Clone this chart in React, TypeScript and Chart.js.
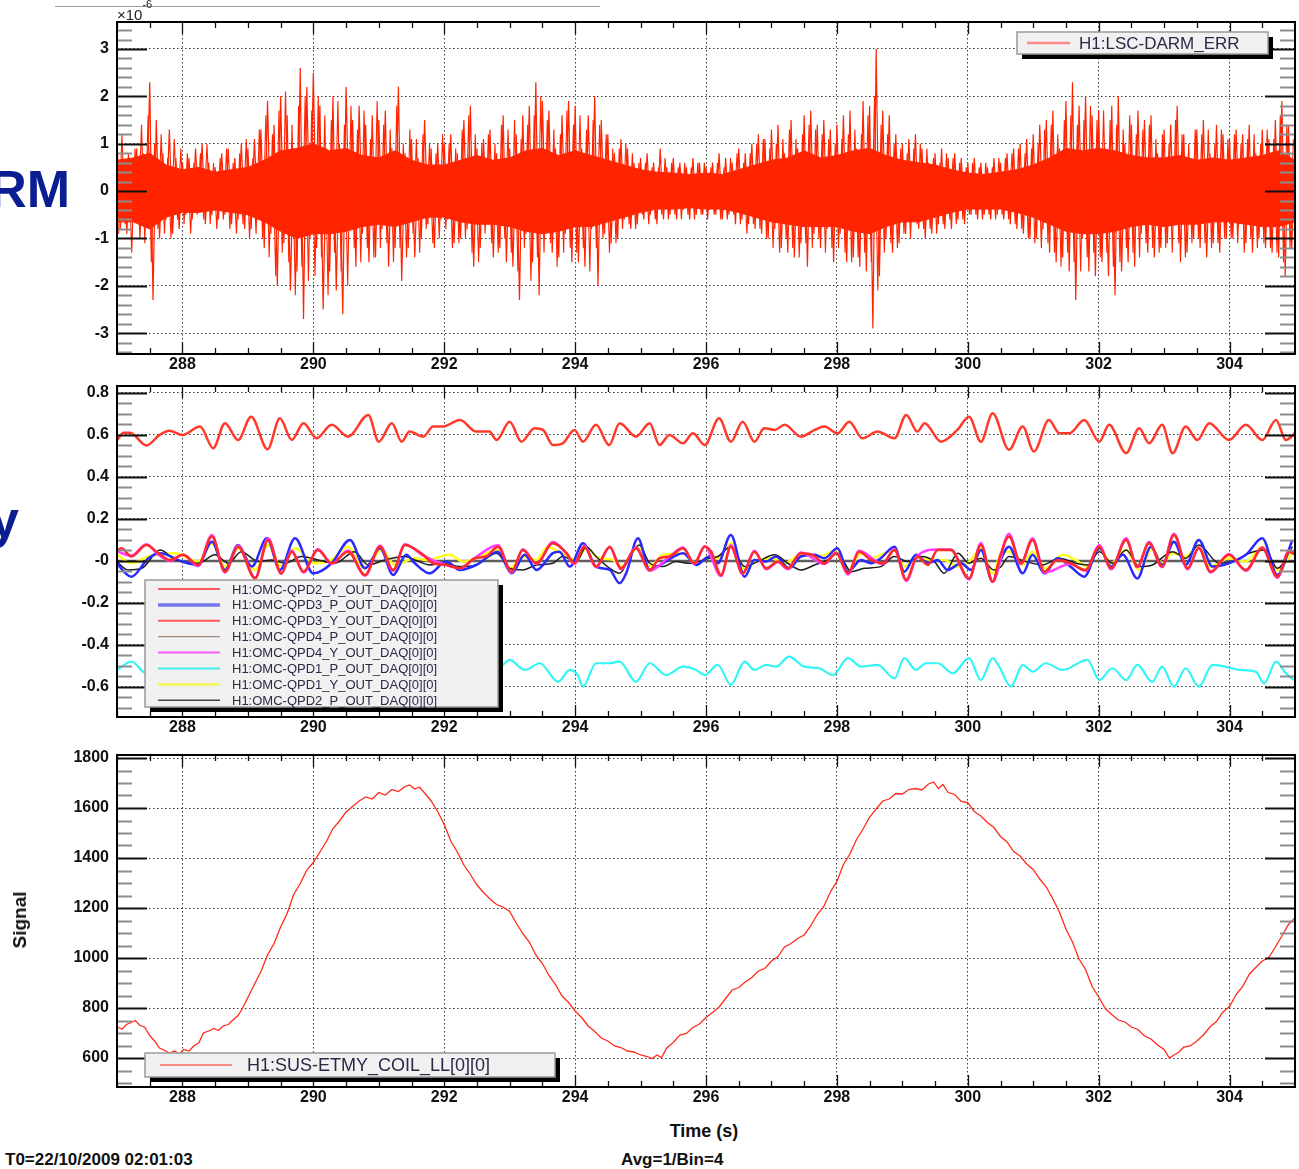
import React, { useEffect, useRef } from "react";
import { Chart, registerables } from "chart.js";
Chart.register(...registerables);

type Pt = [number, number];

// ---------- shared axis data ----------
const X_MIN = 287;
const X_MAX = 305;
const X_TICKS = [288, 290, 292, 294, 296, 298, 300, 302, 304];
const X_MINOR_STEP = 0.5;

// ---------- panel 1 : H1:LSC-DARM_ERR (x10^-6) ----------
const DARM_Y_TICKS = [-3, -2, -1, 0, 1, 2, 3];
const DARM_Y_LABELS = ["-3", "-2", "-1", "0", "1", "2", "3"];
const DARM_T0 = 287;
const DARM_DT = 0.05;
// samples at 287.000, 287.050, ...
const DARM_ERR = [
  1.1, -0.8, 0.6, -0.9, 0.7, -0.5, 0.9, -1.0, 0.8, -0.7, 2.3, -2.3, 1.5, -1.0, 0.8, -0.6, 1.3, -0.9, 0.7, -0.8,
  0.6, -0.5, 0.7, -0.6, 0.9, -0.4, 1.0, -0.7, 0.6, -0.5, 0.5, -0.6, 0.8, -0.5, 0.9, -0.7, 0.7, -0.6, 1.0, -0.8,
  0.9, -0.8, 1.1, -0.6, 1.3, -1.2, 1.9, -0.9, 1.4, -2.0, 2.0, -1.1, 1.6, -2.1, 0.9, -1.7, 2.6, -2.7, 2.2, -1.0,
  2.5, -1.2, 1.8, -2.5, 0.9, -1.7, 2.0, -2.1, 1.0, -2.6, 2.2, -0.8, 1.5, -1.6, 1.8, -0.9, 1.4, -1.5, 1.6, -1.4,
  1.5, -0.8, 1.7, -1.6, 0.9, -1.2, 2.2, -1.9, 0.8, -1.2, 1.1, -1.4, 0.7, -1.0, 1.5, -0.7, 0.9, -1.2, 1.0, -0.6,
  1.0, -0.6, 1.2, -1.1, 0.8, -1.0, 1.5, -0.8, 1.8, -1.6, 0.9, -1.2, 1.1, -0.7, 1.3, -1.4, 0.8, -1.2, 1.6, -1.5,
  0.9, -1.6, 1.2, -2.3, 1.6, -0.9, 1.8, -1.5, 2.3, -2.2, 1.9, -0.8, 1.7, -1.3, 0.9, -1.4, 1.6, -0.9, 1.9, -1.5,
  1.8, -1.5, 0.9, -1.6, 1.6, -0.8, 2.0, -2.0, 1.5, -0.9, 1.2, -1.1, 0.8, -1.0, 1.1, -0.6, 0.9, -0.8, 0.6, -0.7,
  0.7, -0.6, 0.8, -0.5, 0.6, -0.7, 0.9, -0.6, 0.5, -0.5, 0.7, -0.6, 0.6, -0.4, 0.5, -0.6, 0.7, -0.5, 0.6, -0.5,
  0.5, -0.4, 0.6, -0.5, 0.8, -0.6, 0.7, -0.5, 0.6, -0.7, 0.9, -0.6, 0.8, -0.7, 1.0, -0.8, 1.2, -0.9, 1.1, -1.0,
  1.3, -0.8, 1.4, -1.2, 0.8, -1.3, 1.5, -1.4, 0.9, -1.1, 1.6, -1.6, 1.7, -0.9, 1.4, -1.2, 1.5, -0.8, 1.3, -1.5,
  1.4, -0.9, 1.6, -1.5, 1.7, -1.4, 0.9, -1.6, 1.9, -1.7, 1.8, -2.9, 3.0, -1.8, 1.7, -1.0, 1.6, -1.3, 1.2, -1.1,
  1.0, -0.9, 1.1, -0.6, 1.2, -0.8, 0.9, -1.0, 0.6, -0.9, 0.8, -0.7, 0.9, -0.8, 0.7, -0.8, 0.8, -0.6, 0.7, -0.7,
  0.6, -0.5, 0.7, -0.6, 0.6, -0.5, 0.5, -0.6, 0.7, -0.5, 0.6, -0.6, 0.8, -0.7, 0.9, -0.8, 1.0, -0.9, 1.1, -1.0,
  1.2, -1.0, 1.4, -0.8, 1.5, -1.3, 1.7, -1.5, 0.9, -1.4, 1.9, -1.7, 2.3, -2.3, 1.8, -1.0, 2.0, -1.7, 1.6, -1.8,
  1.7, -1.5, 0.9, -1.8, 1.8, -2.2, 2.0, -1.7, 1.0, -1.5, 1.4, -1.6, 1.7, -0.9, 1.5, -1.3, 1.6, -1.4, 0.8, -1.2,
  1.3, -1.1, 1.4, -0.7, 1.8, -1.5, 1.2, -1.3, 0.7, -1.0, 1.3, -1.2, 1.5, -1.4, 0.8, -1.1, 1.4, -1.3, 1.2, -1.0,
  1.1, -1.0, 1.3, -0.7, 1.2, -1.1, 1.4, -1.3, 0.8, -1.0, 1.3, -1.2, 1.1, -1.3, 1.5, -1.4, 1.9, -1.8, 1.4, -1.2,
  1.0,
];
// samples at 287.025, 287.075, ... (in between the ones above)
const DARM_T0_B = 287.025;
const DARM_ERR_B = [
  -0.9, 1.2, -0.7, 0.8, -1.3, 0.9, -0.6, 1.4, -1.1, 1.6, -1.5, 1.0, -0.8, 1.2, -0.9, 0.7, -1.0, 1.1, -0.6, 0.9,
  -0.7, 0.8, -0.9, 0.6, -0.5, 0.8, -0.6, 1.0, -0.7, 0.6, -0.8, 0.7, -0.6, 0.9, -0.8, 0.6, -0.9, 0.8, -0.7, 1.1,
  -1.0, 0.7, -0.9, 1.3, -1.0, 1.6, -1.4, 1.2, -1.8, 1.7, -1.3, 2.1, -1.5, 1.4, -2.2, 1.8, -1.6, 2.0, -1.9, 1.7,
  -1.8, 2.0, -1.4, 1.6, -2.2, 1.5, -1.3, 1.9, -1.7, 1.4, -2.0, 1.8, -1.2, 1.3, -1.5, 1.7, -1.2, 1.1, -1.4, 1.9,
  -1.2, 1.4, -1.1, 1.3, -1.5, 1.8, -1.2, 1.0, -1.4, 1.3, -0.9, 1.1, -1.3, 1.2, -0.8, 1.0, -1.1, 0.8, -1.0, 1.2,
  -0.8, 1.0, -1.2, 0.9, -1.1, 1.3, -1.0, 1.6, -1.3, 1.2, -1.5, 1.0, -0.9, 1.2, -1.1, 1.0, -1.3, 1.4, -1.0, 1.3,
  -1.3, 1.5, -1.7, 1.1, -1.2, 1.4, -1.9, 1.6, -1.4, 2.0, -1.3, 1.5, -1.1, 1.3, -1.6, 1.2, -1.3, 1.7, -1.2, 1.4,
  -1.3, 1.6, -1.2, 1.3, -1.7, 1.5, -1.2, 1.4, -1.0, 1.2, -1.3, 0.9, -1.1, 0.9, -0.8, 1.0, -0.7, 0.8, -0.8, 0.6,
  -0.5, 0.6, -0.7, 0.5, -0.6, 0.5, -0.5, 0.7, -0.6, 0.6, -0.5, 0.5, -0.6, 0.6, -0.5, 0.5, -0.6, 0.6, -0.5, 0.6,
  -0.6, 0.5, -0.5, 0.6, -0.6, 0.5, -0.6, 0.7, -0.5, 0.8, -0.7, 0.6, -0.9, 0.8, -0.7, 1.0, -0.8, 1.1, -1.0, 0.9,
  -1.2, 1.0, -1.3, 1.1, -1.0, 1.3, -1.2, 1.1, -1.4, 1.2, -1.1, 1.4, -1.2, 1.3, -1.0, 1.2, -1.3, 1.1, -1.2, 1.0,
  -1.2, 1.1, -1.3, 1.2, -1.5, 1.3, -1.4, 1.2, -1.3, 1.6, -1.5, 2.0, -2.1, 1.4, -1.3, 1.2, -1.1, 1.0, -1.2, 0.9,
  -0.9, 0.8, -1.0, 0.9, -0.7, 1.0, -0.8, 0.9, -0.8, 0.7, -0.9, 0.6, -0.7, 0.8, -0.6, 0.7, -0.7, 0.6, -0.6, 0.5,
  -0.5, 0.6, -0.5, 0.5, -0.6, 0.6, -0.5, 0.5, -0.6, 0.7, -0.5, 0.7, -0.6, 0.8, -0.7, 0.9, -0.8, 0.8, -1.0, 0.9,
  -1.1, 1.0, -1.2, 1.3, -1.1, 1.4, -1.3, 1.2, -1.6, 1.5, -1.3, 1.6, -1.5, 1.4, -1.7, 1.5, -1.4, 1.8, -1.3, 1.5,
  -1.4, 1.7, -1.3, 1.5, -1.6, 1.4, -1.5, 1.3, -1.2, 1.6, -1.3, 1.2, -1.4, 1.3, -1.1, 1.4, -1.2, 1.1, -1.3, 1.2,
  -1.2, 1.0, -1.3, 1.5, -1.1, 1.2, -1.4, 1.0, -1.1, 1.3, -1.0, 1.2, -1.1, 1.3, -1.2, 1.0, -1.1, 1.3, -1.0, 1.1,
  -1.0, 1.2, -1.1, 1.0, -1.3, 1.1, -1.0, 1.2, -1.2, 1.0, -1.1, 1.3, -1.2, 1.1, -1.3, 1.6, -1.5, 1.4, -1.2, 1.1,
];
// solid core of the noise band (upper / lower edge), every 0.25 s
const DARM_CORE_DT = 0.25;
const DARM_CORE_HI = [
  0.65, 0.7, 0.8, 0.55, 0.45, 0.5, 0.4, 0.45, 0.5, 0.65, 0.85, 0.9, 1.0, 0.85, 0.9, 0.75,
  0.7, 0.85, 0.65, 0.55, 0.55, 0.65, 0.75, 0.65, 0.7, 0.85, 0.9, 0.75, 0.85, 0.75, 0.65, 0.55,
  0.45, 0.4, 0.38, 0.35, 0.38, 0.35, 0.45, 0.55, 0.65, 0.7, 0.85, 0.7, 0.75, 0.85, 0.9, 0.75,
  0.65, 0.6, 0.55, 0.45, 0.38, 0.35, 0.4, 0.45, 0.55, 0.7, 0.9, 0.85, 0.9, 0.85, 0.75, 0.7,
  0.7, 0.75, 0.65, 0.7, 0.65, 0.7, 0.75, 0.85, 0.65,
];
const DARM_CORE_LO = [
  -0.65, -0.65, -0.8, -0.55, -0.45, -0.45, -0.4, -0.45, -0.5, -0.65, -0.85, -1.0, -0.9, -0.9, -0.85, -0.75,
  -0.7, -0.75, -0.65, -0.55, -0.55, -0.65, -0.7, -0.7, -0.75, -0.85, -0.9, -0.85, -0.75, -0.75, -0.65, -0.55,
  -0.45, -0.38, -0.38, -0.35, -0.38, -0.38, -0.45, -0.55, -0.65, -0.7, -0.75, -0.75, -0.75, -0.85, -0.9, -0.75,
  -0.65, -0.65, -0.55, -0.45, -0.38, -0.38, -0.38, -0.45, -0.55, -0.7, -0.85, -0.9, -0.9, -0.85, -0.75, -0.7,
  -0.75, -0.7, -0.7, -0.65, -0.65, -0.7, -0.75, -0.75, -0.65,
];

// ---------- panel 2 : OMC QPD signals ----------
const QPD_Y_TICKS = [-0.6, -0.4, -0.2, 0, 0.2, 0.4, 0.6, 0.8];
const QPD_Y_LABELS = ["-0.6", "-0.4", "-0.2", "-0", "0.2", "0.4", "0.6", "0.8"];

const QPD2_Y: Pt[] = [
  [287.0, 0.575], [287.1, 0.61], [287.2, 0.61], [287.45, 0.55], [287.65, 0.6], [287.8, 0.62], [288.0, 0.6],
  [288.27, 0.64], [288.47, 0.537], [288.65, 0.656], [288.85, 0.576], [289.05, 0.687], [289.3, 0.532],
  [289.49, 0.679], [289.67, 0.576], [289.85, 0.656], [290.05, 0.584], [290.28, 0.648], [290.53, 0.592],
  [290.84, 0.695], [291.0, 0.568], [291.2, 0.656], [291.35, 0.568], [291.47, 0.616], [291.68, 0.592],
  [291.83, 0.64], [291.98, 0.64], [292.24, 0.671], [292.49, 0.616], [292.69, 0.616], [292.8, 0.576],
  [293.0, 0.663], [293.18, 0.568], [293.38, 0.632], [293.51, 0.624], [293.66, 0.552], [293.81, 0.56],
  [293.99, 0.624], [294.12, 0.568], [294.32, 0.648], [294.52, 0.552], [294.68, 0.656], [294.93, 0.592],
  [295.14, 0.656], [295.29, 0.552], [295.44, 0.6], [295.65, 0.56], [295.8, 0.608], [295.98, 0.552],
  [296.2, 0.679], [296.38, 0.568], [296.56, 0.663], [296.74, 0.568], [296.89, 0.632], [297.05, 0.624],
  [297.2, 0.648], [297.45, 0.592], [297.66, 0.624], [297.81, 0.64], [298.01, 0.608], [298.19, 0.663],
  [298.39, 0.584], [298.62, 0.616], [298.88, 0.584], [299.06, 0.695], [299.23, 0.616], [299.34, 0.656],
  [299.59, 0.568], [299.84, 0.624], [300.02, 0.687], [300.2, 0.568], [300.38, 0.703], [300.63, 0.529],
  [300.84, 0.64], [301.01, 0.521], [301.24, 0.671], [301.4, 0.608], [301.55, 0.608], [301.78, 0.671],
  [302.01, 0.568], [302.16, 0.648], [302.42, 0.513], [302.62, 0.632], [302.77, 0.56], [302.97, 0.648],
  [303.13, 0.513], [303.33, 0.64], [303.51, 0.576], [303.69, 0.656], [303.99, 0.576], [304.25, 0.648],
  [304.5, 0.576], [304.71, 0.671], [304.86, 0.576], [305.0, 0.608],
];

const QPD3_P: Pt[] = [
  [286.97, -0.003], [287.22, -0.075], [287.48, 0.013], [287.66, 0.037], [288.0, -0.003], [288.24, -0.019],
  [288.45, 0.092], [288.65, -0.043], [288.85, 0.076], [289.06, -0.027], [289.29, 0.108], [289.49, -0.043],
  [289.72, 0.108], [290.0, -0.059], [290.28, -0.011], [290.56, 0.1], [290.79, -0.035], [291.02, 0.06],
  [291.22, -0.067], [291.42, 0.029], [291.55, -0.011], [291.78, -0.059], [292.03, -0.003], [292.24, -0.043],
  [292.49, -0.019], [292.82, 0.044], [293.03, -0.059], [293.23, 0.029], [293.41, -0.043], [293.66, 0.037],
  [293.76, 0.044], [293.92, -0.027], [294.12, 0.084], [294.32, -0.027], [294.53, -0.043], [294.68, -0.106],
  [294.78, -0.059], [294.96, 0.108], [295.14, -0.043], [295.34, -0.011], [295.65, 0.037], [295.85, -0.019],
  [296.05, 0.021], [296.18, -0.011], [296.38, 0.124], [296.59, -0.075], [296.74, 0.005], [296.92, -0.003],
  [297.07, 0.021], [297.27, -0.035], [297.45, 0.021], [297.66, 0.029], [297.81, 0.013], [298.01, 0.06],
  [298.17, -0.051], [298.37, 0.005], [298.52, -0.011], [298.67, 0.013], [298.88, 0.068], [299.03, -0.051],
  [299.21, 0.029], [299.39, -0.011], [299.54, 0.005], [299.69, -0.043], [299.9, -0.011], [300.05, -0.043],
  [300.2, 0.052], [300.38, -0.098], [300.48, -0.011], [300.63, 0.068], [300.84, -0.059], [300.99, 0.029],
  [301.17, -0.059], [301.37, 0.013], [301.57, -0.027], [301.78, -0.075], [302.01, 0.06], [302.19, -0.027],
  [302.37, 0.029], [302.59, -0.083], [302.8, 0.068], [302.97, -0.019], [303.15, 0.092], [303.33, -0.019],
  [303.53, 0.1], [303.74, -0.027], [303.99, -0.011], [304.25, 0.029], [304.5, 0.108], [304.73, -0.067],
  [304.96, 0.1],
];

const QPD3_Y: Pt[] = [
  [286.97, 0.044], [287.07, 0.06], [287.22, 0.021], [287.45, 0.076], [287.63, 0.037], [287.81, 0.005],
  [288.01, 0.029], [288.24, -0.019], [288.45, 0.116], [288.65, -0.051], [288.85, 0.068], [289.11, -0.083],
  [289.31, 0.1], [289.51, -0.059], [289.67, 0.044], [289.85, -0.051], [290.07, 0.052], [290.28, -0.011],
  [290.53, 0.044], [290.79, -0.067], [291.02, 0.068], [291.22, -0.043], [291.4, 0.076], [291.68, 0.029],
  [291.83, -0.011], [292.03, -0.019], [292.24, -0.035], [292.47, 0.013], [292.64, 0.021], [292.82, 0.068],
  [293.03, -0.051], [293.2, 0.052], [293.41, -0.011], [293.66, 0.084], [293.87, 0.037], [293.99, -0.011],
  [294.14, 0.068], [294.32, -0.027], [294.53, 0.068], [294.7, -0.035], [294.93, 0.06], [295.14, -0.043],
  [295.29, 0.013], [295.44, 0.021], [295.65, 0.06], [295.82, -0.011], [295.98, 0.068], [296.08, 0.044],
  [296.23, -0.067], [296.38, 0.068], [296.56, -0.059], [296.74, 0.044], [296.92, -0.035], [297.1, -0.003],
  [297.25, -0.035], [297.45, 0.037], [297.63, 0.029], [297.81, -0.011], [297.99, 0.037], [298.17, -0.059],
  [298.34, 0.044], [298.52, 0.005], [298.7, -0.011], [298.88, 0.052], [299.06, -0.09], [299.23, 0.021],
  [299.39, -0.019], [299.54, 0.052], [299.74, 0.052], [300.02, -0.083], [300.2, 0.076], [300.38, -0.098],
  [300.5, 0.03], [300.63, 0.116], [300.81, -0.011], [300.99, 0.1], [301.17, -0.051], [301.37, 0.005],
  [301.57, -0.011], [301.8, -0.043], [302.01, 0.068], [302.19, -0.035], [302.42, 0.1], [302.59, -0.027],
  [302.77, 0.084], [302.97, -0.027], [303.15, 0.124], [303.36, -0.035], [303.53, 0.06], [303.71, -0.051],
  [303.99, 0.029], [304.25, -0.043], [304.5, 0.06], [304.73, -0.075], [304.91, 0.044], [305.01, 0.029],
];

const QPD4_P: Pt[] = [[287.0, 0], [305.0, 0]];

const QPD4_Y: Pt[] = [
  [286.97, 0.05], [287.22, 0.025], [287.45, 0.08], [287.63, 0.03], [287.81, 0.0], [288.01, 0.03],
  [288.24, -0.025], [288.45, 0.124], [288.65, -0.055], [288.85, 0.072], [289.11, -0.08], [289.31, 0.108],
  [289.51, -0.062], [289.67, 0.05], [289.85, -0.055], [290.07, 0.056], [290.28, -0.015], [290.53, 0.05],
  [290.79, -0.07], [291.02, 0.072], [291.22, -0.047], [291.4, 0.08], [291.68, 0.025], [292.03, -0.02],
  [292.24, -0.035], [292.47, 0.015], [292.82, 0.075], [293.03, -0.055], [293.2, 0.056], [293.41, -0.015],
  [293.66, 0.09], [293.87, 0.035], [293.99, -0.015], [294.14, 0.072], [294.32, -0.03], [294.53, 0.065],
  [294.7, -0.04], [294.93, 0.064], [295.14, -0.047], [295.44, 0.02], [295.65, 0.064], [295.82, -0.015],
  [295.98, 0.07], [296.23, -0.072], [296.38, 0.075], [296.56, -0.062], [296.74, 0.048], [296.92, -0.04],
  [297.1, -0.005], [297.25, -0.04], [297.45, 0.04], [297.81, -0.015], [297.99, 0.04], [298.17, -0.064],
  [298.34, 0.048], [298.7, -0.015], [298.88, 0.056], [299.06, -0.095], [299.23, 0.025], [299.54, 0.055],
  [299.74, 0.055], [300.02, -0.088], [300.2, 0.085], [300.38, -0.1], [300.63, 0.13], [300.81, -0.015],
  [300.99, 0.108], [301.17, -0.055], [301.57, -0.015], [301.8, -0.047], [302.01, 0.075], [302.19, -0.04],
  [302.42, 0.108], [302.59, -0.03], [302.77, 0.09], [302.97, -0.03], [303.15, 0.13], [303.36, -0.04],
  [303.53, 0.064], [303.71, -0.055], [303.99, 0.033], [304.25, -0.047], [304.5, 0.064], [304.73, -0.08],
  [304.91, 0.05], [305.01, 0.033],
];

const QPD1_P: Pt[] = [
  [287.0, -0.519], [287.22, -0.479], [287.45, -0.535], [287.7, -0.51], [288.0, -0.52], [288.5, -0.5],
  [289.0, -0.53], [289.5, -0.5], [290.0, -0.52], [290.5, -0.5], [291.0, -0.53], [291.5, -0.5], [292.0, -0.52],
  [292.5, -0.5], [292.85, -0.503], [293.0, -0.471], [293.23, -0.519], [293.46, -0.487], [293.74, -0.575],
  [293.92, -0.519], [294.04, -0.543], [294.12, -0.598], [294.32, -0.487], [294.53, -0.487], [294.68, -0.479],
  [294.93, -0.575], [295.14, -0.487], [295.39, -0.543], [295.65, -0.503], [295.85, -0.519], [295.98, -0.543],
  [296.18, -0.495], [296.38, -0.59], [296.59, -0.479], [296.74, -0.519], [296.92, -0.495], [297.07, -0.503],
  [297.27, -0.456], [297.5, -0.503], [297.73, -0.511], [297.94, -0.543], [298.17, -0.463], [298.37, -0.503],
  [298.62, -0.495], [298.88, -0.559], [299.03, -0.463], [299.21, -0.519], [299.36, -0.487], [299.54, -0.487],
  [299.77, -0.535], [300.02, -0.463], [300.2, -0.567], [300.38, -0.463], [300.48, -0.503], [300.66, -0.598],
  [300.84, -0.495], [300.99, -0.527], [301.19, -0.487], [301.45, -0.519], [301.83, -0.471], [302.01, -0.567],
  [302.21, -0.511], [302.42, -0.567], [302.59, -0.495], [302.82, -0.575], [302.97, -0.503], [303.15, -0.598],
  [303.33, -0.511], [303.53, -0.598], [303.74, -0.495], [304.04, -0.511], [304.15, -0.519], [304.4, -0.527],
  [304.53, -0.583], [304.71, -0.479], [304.86, -0.535], [304.98, -0.567],
];

const QPD1_Y: Pt[] = [
  [286.97, 0.037], [287.22, -0.011], [287.48, 0.021], [287.89, 0.037], [288.24, -0.003], [288.45, 0.084],
  [288.65, -0.027], [288.85, 0.06], [289.11, -0.043], [289.31, 0.076], [289.51, -0.027], [289.72, 0.06],
  [290.02, -0.011], [290.28, 0.005], [290.53, 0.068], [290.79, -0.035], [291.04, 0.052], [291.25, -0.019],
  [291.55, 0.013], [291.73, 0.005], [292.08, 0.029], [292.29, -0.003], [292.49, 0.013], [292.8, 0.052],
  [293.0, -0.035], [293.2, 0.021], [293.41, 0.005], [293.58, 0.068], [293.79, 0.037], [294.02, 0.005],
  [294.17, 0.06], [294.37, 0.013], [294.58, 0.005], [294.73, -0.027], [294.96, 0.068], [295.14, -0.027],
  [295.34, 0.029], [295.65, 0.037], [295.85, -0.011], [296.05, 0.021], [296.18, 0.013], [296.38, 0.084],
  [296.59, -0.043], [296.79, 0.005], [297.0, 0.013], [297.2, -0.011], [297.45, 0.029], [297.66, 0.021],
  [297.81, 0.029], [298.01, 0.052], [298.17, -0.043], [298.37, 0.037], [298.52, 0.013], [298.73, 0.037],
  [298.88, 0.052], [299.03, -0.027], [299.23, 0.021], [299.44, 0.005], [299.64, 0.005], [299.85, -0.027],
  [300.05, 0.005], [300.2, 0.06], [300.38, -0.059], [300.5, 0.03], [300.63, 0.044], [300.84, -0.019],
  [300.99, 0.044], [301.19, -0.035], [301.45, 0.029], [301.65, 0.005], [301.83, -0.027], [302.01, 0.068],
  [302.19, -0.011], [302.42, 0.052], [302.62, -0.043], [302.82, 0.06], [302.97, -0.011], [303.13, 0.037],
  [303.33, 0.021], [303.53, 0.068], [303.71, -0.027], [303.99, 0.013], [304.25, -0.003], [304.5, 0.068],
  [304.73, -0.043], [304.96, 0.037],
];

const QPD2_P: Pt[] = [
  [286.97, 0.005], [287.17, -0.043], [287.38, -0.035], [287.66, 0.052], [287.89, 0.005], [288.24, -0.011],
  [288.5, 0.029], [288.7, -0.011], [288.9, 0.044], [289.16, -0.003], [289.36, 0.005], [289.57, -0.011],
  [289.82, 0.021], [290.07, 0.005], [290.33, -0.011], [290.63, 0.044], [290.84, -0.019], [291.09, 0.005],
  [291.4, 0.021], [291.55, 0.005], [291.78, -0.019], [291.98, -0.011], [292.24, -0.027], [292.49, -0.019],
  [292.8, 0.037], [293.0, -0.035], [293.2, -0.043], [293.41, -0.019], [293.66, -0.011], [293.81, 0.021],
  [294.02, -0.003], [294.17, 0.068], [294.32, 0.021], [294.53, -0.035], [294.68, -0.059], [294.85, 0.029],
  [294.98, 0.076], [295.14, -0.011], [295.34, -0.027], [295.54, -0.003], [295.75, -0.011], [296.05, 0.013],
  [296.18, 0.021], [296.38, 0.068], [296.59, -0.027], [296.79, -0.003], [297.05, 0.029], [297.25, -0.011],
  [297.45, -0.043], [297.66, -0.019], [297.86, 0.005], [298.01, 0.037], [298.22, -0.051], [298.42, -0.035],
  [298.67, -0.027], [298.88, 0.021], [299.08, -0.003], [299.29, 0.021], [299.49, -0.003], [299.64, -0.059],
  [299.85, 0.037], [300.02, -0.011], [300.2, 0.013], [300.4, -0.043], [300.5, -0.03], [300.63, 0.021],
  [300.89, -0.003], [301.14, -0.019], [301.4, 0.013], [301.65, -0.011], [301.83, -0.019], [302.01, 0.044],
  [302.21, -0.011], [302.42, 0.052], [302.62, -0.027], [302.82, -0.019], [303.13, 0.044], [303.33, 0.013],
  [303.53, 0.076], [303.84, -0.011], [304.04, -0.003], [304.3, 0.037], [304.55, 0.052], [304.73, -0.035],
  [304.96, 0.068],
];

// ---------- panel 3 : H1:SUS-ETMY_COIL_LL ----------
const COIL_Y_TICKS = [600, 800, 1000, 1200, 1400, 1600, 1800];
const COIL_Y_LABELS = ["600", "800", "1000", "1200", "1400", "1600", "1800"];
const COIL_LL: Pt[] = [
  [287.0, 724], [287.08, 716], [287.15, 735], [287.22, 742], [287.28, 750], [287.35, 730], [287.42, 724],
  [287.5, 690], [287.58, 666], [287.65, 640], [287.73, 630], [287.8, 620], [287.88, 628], [287.95, 616],
  [288.02, 634], [288.1, 628], [288.18, 650], [288.25, 660], [288.32, 700], [288.4, 708], [288.48, 718],
  [288.55, 710], [288.62, 728], [288.7, 734], [288.78, 754], [288.85, 770], [288.92, 800], [289.0, 842],
  [289.1, 895], [289.2, 946], [289.3, 1012], [289.4, 1058], [289.5, 1124], [289.6, 1178], [289.7, 1254],
  [289.8, 1298], [289.9, 1352], [290.0, 1382], [290.1, 1424], [290.2, 1466], [290.3, 1518], [290.4, 1548],
  [290.5, 1584], [290.6, 1606], [290.7, 1628], [290.8, 1644], [290.9, 1636], [291.0, 1662], [291.1, 1652],
  [291.2, 1674], [291.3, 1666], [291.4, 1686], [291.47, 1692], [291.55, 1676], [291.62, 1684], [291.7, 1660],
  [291.8, 1628], [291.9, 1586], [292.0, 1534], [292.1, 1468], [292.2, 1424], [292.3, 1372], [292.4, 1334],
  [292.5, 1292], [292.6, 1262], [292.7, 1236], [292.8, 1214], [292.9, 1204], [293.0, 1186], [293.1, 1140],
  [293.2, 1098], [293.3, 1064], [293.4, 1012], [293.5, 978], [293.6, 930], [293.7, 894], [293.8, 848],
  [293.9, 822], [294.0, 788], [294.1, 762], [294.2, 728], [294.3, 706], [294.4, 680], [294.5, 668],
  [294.6, 648], [294.7, 642], [294.8, 628], [294.9, 624], [295.0, 612], [295.1, 606], [295.18, 598],
  [295.25, 612], [295.32, 602], [295.4, 640], [295.5, 662], [295.6, 692], [295.7, 698], [295.8, 722],
  [295.9, 736], [296.0, 762], [296.1, 782], [296.2, 804], [296.3, 838], [296.4, 872], [296.5, 882],
  [296.6, 904], [296.7, 922], [296.8, 948], [296.9, 958], [297.0, 988], [297.1, 1006], [297.2, 1044],
  [297.3, 1058], [297.4, 1078], [297.5, 1092], [297.6, 1128], [297.7, 1174], [297.8, 1206], [297.9, 1264],
  [298.0, 1306], [298.1, 1374], [298.2, 1416], [298.3, 1474], [298.4, 1516], [298.5, 1564], [298.6, 1596],
  [298.7, 1628], [298.8, 1636], [298.9, 1658], [299.0, 1656], [299.1, 1674], [299.2, 1678], [299.3, 1672],
  [299.4, 1696], [299.48, 1704], [299.55, 1678], [299.62, 1694], [299.7, 1662], [299.8, 1654], [299.9, 1626],
  [300.0, 1622], [300.1, 1586], [300.2, 1568], [300.3, 1542], [300.4, 1522], [300.5, 1486], [300.6, 1464],
  [300.7, 1426], [300.8, 1408], [300.9, 1376], [301.0, 1354], [301.1, 1316], [301.2, 1284], [301.3, 1236],
  [301.4, 1184], [301.5, 1116], [301.6, 1064], [301.7, 996], [301.8, 954], [301.9, 886], [302.0, 844],
  [302.1, 798], [302.2, 774], [302.3, 752], [302.4, 744], [302.5, 724], [302.6, 714], [302.7, 688],
  [302.8, 676], [302.9, 652], [303.0, 634], [303.08, 600], [303.15, 612], [303.22, 622], [303.3, 644],
  [303.4, 648], [303.5, 668], [303.6, 692], [303.7, 724], [303.8, 746], [303.9, 784], [304.0, 806],
  [304.1, 854], [304.2, 886], [304.3, 934], [304.4, 962], [304.5, 988], [304.6, 1002], [304.7, 1044],
  [304.8, 1088], [304.9, 1134], [305.0, 1160],
];

// ---------- helpers ----------
const FONT = '"Liberation Sans", Arial, Helvetica, sans-serif';
const toXY = (a: Pt[]) => a.map(([x, y]) => ({ x, y }));

type LegendEntry = { label: string; color: string; width: number };
type LegendSpec = {
  x: number; y: number; w: number; h: number; shadow: number;
  row0: number; rowStep: number; lx1: number; lx2: number; tx: number; fontSize: number;
  entries: LegendEntry[];
};

function framePlugin(yTicks: number[], yMinorStep: number, yMin: number, yMax: number) {
  return {
    id: "rootFrame",
    afterDatasetsDraw(chart: any) {
      const { ctx, chartArea: a, scales } = chart;
      const xs = scales.x;
      const ys = scales.y;
      ctx.save();
      ctx.beginPath();
      ctx.rect(a.left, a.top, a.right - a.left, a.bottom - a.top);
      ctx.clip();
      const seg = (x1: number, y1: number, x2: number, y2: number, c: string, w: number) => {
        ctx.strokeStyle = c;
        ctx.lineWidth = w;
        ctx.beginPath();
        ctx.moveTo(x1, y1);
        ctx.lineTo(x2, y2);
        ctx.stroke();
      };
      const nX = Math.round((X_MAX - X_MIN) / X_MINOR_STEP);
      for (let i = 0; i <= nX; i++) {
        const v = X_MIN + i * X_MINOR_STEP;
        const major = X_TICKS.some((t) => Math.abs(t - v) < 1e-6);
        const px = Math.round(xs.getPixelForValue(v)) + 0.5;
        const len = major ? 12 : 6;
        seg(px, a.bottom, px, a.bottom - len, "#111", 1.3);
        seg(px, a.top, px, a.top + len, "#111", 1.3);
      }
      const k0 = Math.ceil(yMin / yMinorStep - 1e-9);
      const k1 = Math.floor(yMax / yMinorStep + 1e-9);
      for (let k = k0; k <= k1; k++) {
        const v = k * yMinorStep;
        const major = yTicks.some((t) => Math.abs(t - v) < yMinorStep * 1e-3);
        const py = Math.round(ys.getPixelForValue(v)) + 0.5;
        const len = major ? 30 : 15;
        const col = major ? "#111" : "#8c8c8c";
        seg(a.left, py, a.left + len, py, col, 2);
        seg(a.right, py, a.right - len, py, col, 2);
      }
      ctx.restore();
      ctx.save();
      ctx.strokeStyle = "#000";
      ctx.lineWidth = 2;
      ctx.strokeRect(a.left, a.top, a.right - a.left, a.bottom - a.top);
      ctx.restore();
    },
  };
}

function legendPlugin(spec: LegendSpec) {
  return {
    id: "rootLegend",
    afterDraw(chart: any) {
      const { ctx } = chart;
      const s = spec;
      ctx.save();
      ctx.fillStyle = "#000";
      ctx.fillRect(s.x + s.shadow, s.y + s.shadow, s.w, s.h);
      ctx.fillStyle = "#f1f1f1";
      ctx.fillRect(s.x, s.y, s.w, s.h);
      ctx.strokeStyle = "#9a9a9a";
      ctx.lineWidth = 1.5;
      ctx.strokeRect(s.x, s.y, s.w, s.h);
      s.entries.forEach((e, i) => {
        const yy = s.row0 + i * s.rowStep;
        ctx.strokeStyle = e.color;
        ctx.lineWidth = e.width;
        ctx.beginPath();
        ctx.moveTo(s.lx1, yy);
        ctx.lineTo(s.lx2, yy);
        ctx.stroke();
        ctx.fillStyle = "#2a2a48";
        ctx.font = `${s.fontSize}px ${FONT}`;
        ctx.textBaseline = "middle";
        ctx.textAlign = "left";
        ctx.fillText(e.label, s.tx, yy + 1);
      });
      ctx.restore();
    },
  };
}

function makeConfig(opts: {
  datasets: any[];
  padTop: number;
  xAxisH: number;
  yMin: number;
  yMax: number;
  yTicks: number[];
  yLabels: string[];
  yMinorStep: number;
  legend: LegendSpec;
}) {
  const tickFont = { family: FONT, size: 16, weight: "bold" as const };
  return {
    type: "line" as const,
    data: { datasets: opts.datasets },
    options: {
      responsive: false,
      animation: false as const,
      events: [],
      layout: { padding: { top: opts.padTop, right: 4, left: 0, bottom: 0 } },
      plugins: { legend: { display: false }, tooltip: { enabled: false } },
      elements: { point: { radius: 0 } },
      scales: {
        x: {
          type: "linear" as const,
          min: X_MIN,
          max: X_MAX,
          afterBuildTicks: (s: any) => {
            s.ticks = X_TICKS.map((v) => ({ value: v }));
          },
          afterFit: (s: any) => {
            s.height = opts.xAxisH;
          },
          grid: { color: "#3a3a3a", lineWidth: 1, drawTicks: false },
          border: { display: false, dash: [1.5, 2.5] },
          ticks: {
            padding: 1,
            autoSkip: false,
            maxRotation: 0,
            color: "#111",
            font: tickFont,
            callback: (v: any) => String(v),
          },
        },
        y: {
          type: "linear" as const,
          min: opts.yMin,
          max: opts.yMax,
          afterBuildTicks: (s: any) => {
            s.ticks = opts.yTicks.map((v) => ({ value: v }));
          },
          afterFit: (s: any) => {
            s.width = 117;
          },
          grid: { color: "#3a3a3a", lineWidth: 1, drawTicks: false },
          border: { display: false, dash: [1.5, 2.5] },
          ticks: {
            padding: 8,
            autoSkip: false,
            color: "#111",
            font: tickFont,
            callback: (_v: any, i: number) => opts.yLabels[i],
          },
        },
      },
    },
    plugins: [framePlugin(opts.yTicks, opts.yMinorStep, opts.yMin, opts.yMax), legendPlugin(opts.legend)],
  };
}

const line = (data: any[], color: string, width: number, order: number, smooth = true) => ({
  data,
  borderColor: color,
  borderWidth: width,
  backgroundColor: color,
  fill: false as any,
  pointRadius: 0,
  order,
  cubicInterpolationMode: smooth ? ("monotone" as const) : ("default" as const),
  tension: smooth ? 0.4 : 0,
});

export default function App() {
  const c1 = useRef<HTMLCanvasElement>(null);
  const c2 = useRef<HTMLCanvasElement>(null);
  const c3 = useRef<HTMLCanvasElement>(null);

  useEffect(() => {
    const darm = DARM_ERR.map((y, i) => ({ x: DARM_T0 + i * DARM_DT, y }));
    const darmB = DARM_ERR_B.map((y, i) => ({ x: DARM_T0_B + i * DARM_DT, y }));
    const coreHi = DARM_CORE_HI.map((y, i) => ({ x: DARM_T0 + i * DARM_CORE_DT, y }));
    const coreLo = DARM_CORE_LO.map((y, i) => ({ x: DARM_T0 + i * DARM_CORE_DT, y }));
    const hiSet = { ...line(coreHi, "#ff2400", 1, 2, false), fill: "+1", backgroundColor: "#ff2400" };
    const loSet = line(coreLo, "#ff2400", 1, 3, false);
    const cfg1 = makeConfig({
      datasets: [line(darm, "#ff2400", 1.2, 0, false), line(darmB, "#ff2400", 1.1, 1, false), hiSet, loSet],
      padTop: 22,
      xAxisH: 26,
      yMin: -3.44,
      yMax: 3.57,
      yTicks: DARM_Y_TICKS,
      yLabels: DARM_Y_LABELS,
      yMinorStep: 0.2,
      legend: {
        x: 1017, y: 32, w: 251, h: 22, shadow: 5, row0: 43, rowStep: 0,
        lx1: 1027, lx2: 1070, tx: 1079, fontSize: 17,
        entries: [{ label: "H1:LSC-DARM_ERR", color: "#ff8a8a", width: 2.5 }],
      },
    });
    const cfg2 = makeConfig({
      datasets: [
        line(toXY(QPD2_Y), "#ff3a2a", 2.5, 0),
        line(toXY(QPD3_Y), "#ff2a2a", 2.5, 1),
        line(toXY(QPD4_Y), "#ff3cff", 2.5, 2),
        line(toXY(QPD3_P), "#2a2aff", 2.5, 3),
        line(toXY(QPD2_P), "#1e1e1e", 1.5, 4),
        line(toXY(QPD1_Y), "#ffff1e", 2.5, 5),
        line(toXY(QPD1_P), "#33f5f5", 2.2, 6),
        line(toXY(QPD4_P), "#5e5e5e", 2.5, 7, false),
      ],
      padTop: 30,
      xAxisH: 29,
      yMin: -0.743,
      yMax: 0.833,
      yTicks: QPD_Y_TICKS,
      yLabels: QPD_Y_LABELS,
      yMinorStep: 0.05,
      legend: {
        x: 145, y: 224, w: 353, h: 127, shadow: 5, row0: 233, rowStep: 15.9,
        lx1: 158, lx2: 220, tx: 232, fontSize: 13,
        entries: [
          { label: "H1:OMC-QPD2_Y_OUT_DAQ[0][0]", color: "#ff5a5a", width: 2 },
          { label: "H1:OMC-QPD3_P_OUT_DAQ[0][0]", color: "#7676ee", width: 3.5 },
          { label: "H1:OMC-QPD3_Y_OUT_DAQ[0][0]", color: "#ff5a5a", width: 2 },
          { label: "H1:OMC-QPD4_P_OUT_DAQ[0][0]", color: "#8b7062", width: 1 },
          { label: "H1:OMC-QPD4_Y_OUT_DAQ[0][0]", color: "#ff5aff", width: 2 },
          { label: "H1:OMC-QPD1_P_OUT_DAQ[0][0]", color: "#46eeee", width: 2 },
          { label: "H1:OMC-QPD1_Y_OUT_DAQ[0][0]", color: "#f6f650", width: 2.5 },
          { label: "H1:OMC-QPD2_P_OUT_DAQ[0][0]", color: "#444", width: 1.5 },
        ],
      },
    });
    const cfg3 = makeConfig({
      datasets: [line(toXY(COIL_LL), "#ff2a1a", 1.3, 0, false)],
      padTop: 30,
      xAxisH: 28,
      yMin: 484,
      yMax: 1812,
      yTicks: COIL_Y_TICKS,
      yLabels: COIL_Y_LABELS,
      yMinorStep: 50,
      legend: {
        x: 145, y: 328, w: 410, h: 24, shadow: 5, row0: 340, rowStep: 0,
        lx1: 160, lx2: 232, tx: 247, fontSize: 18,
        entries: [{ label: "H1:SUS-ETMY_COIL_LL[0][0]", color: "#ff2a1a", width: 1 }],
      },
    });
    const charts = [
      new Chart(c1.current as HTMLCanvasElement, cfg1 as any),
      new Chart(c2.current as HTMLCanvasElement, cfg2 as any),
      new Chart(c3.current as HTMLCanvasElement, cfg3 as any),
    ];
    return () => charts.forEach((c) => c.destroy());
  }, []);

  const abs = (extra: React.CSSProperties): React.CSSProperties => ({ position: "absolute", whiteSpace: "nowrap", ...extra });

  return (
    <div style={{ position: "absolute", left: 0, top: 0, width: 1299, height: 1169, background: "#fff", overflow: "hidden", fontFamily: FONT }}>
      <div style={abs({ left: 55, top: 6, width: 545, height: 1, background: "#9a9a9a" })} />
      <div style={abs({ left: -100, top: 163, width: 170, textAlign: "right", fontFamily: '"Liberation Sans Narrow", "Liberation Sans", Arial, sans-serif', fontWeight: 700, fontSize: 52, lineHeight: "52px", color: "#0b1e91" })}>ARM</div>
      <div style={abs({ left: -10, top: 493, fontFamily: '"Liberation Sans Narrow", "Liberation Sans", Arial, sans-serif', fontWeight: 700, fontSize: 52, lineHeight: "52px", color: "#0b1e91" })}>y</div>
      <canvas ref={c1} width={1299} height={380} style={{ position: "absolute", left: 0, top: 0, width: 1299, height: 380 }} />
      <canvas ref={c2} width={1299} height={390} style={{ position: "absolute", left: 0, top: 356, width: 1299, height: 390 }} />
      <canvas ref={c3} width={1299} height={390} style={{ position: "absolute", left: 0, top: 725, width: 1299, height: 390 }} />
      <div style={abs({ left: 117, top: 6, fontSize: 15, lineHeight: "17px", color: "#222" })}>
        ×10<span style={{ position: "relative", top: -12, fontSize: 11 }}>-6</span>
      </div>
      <div style={abs({ left: 20, top: 920, transform: "translate(-50%, -50%) rotate(-90deg)", fontSize: 19, fontWeight: 700, color: "#111" })}>Signal</div>
      <div style={abs({ left: 704, top: 1131, transform: "translate(-50%, -50%)", fontSize: 18, fontWeight: 700, color: "#111" })}>Time (s)</div>
      <div style={abs({ left: 5, top: 1160, transform: "translateY(-50%)", fontSize: 17, fontWeight: 700, color: "#111" })}>T0=22/10/2009 02:01:03</div>
      <div style={abs({ left: 621, top: 1160, transform: "translateY(-50%)", fontSize: 17, fontWeight: 700, color: "#111" })}>Avg=1/Bin=4</div>
    </div>
  );
}
